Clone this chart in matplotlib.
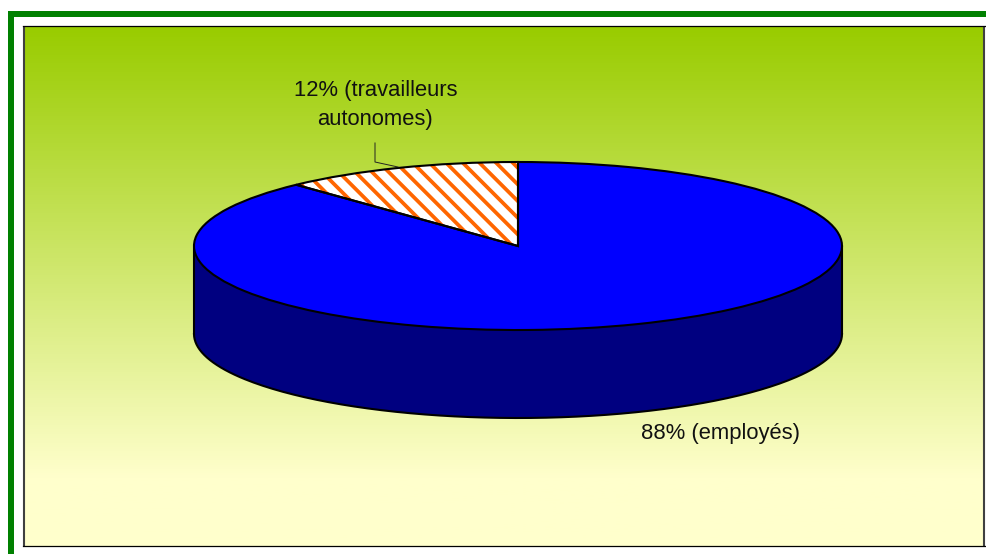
import numpy as np
import matplotlib
matplotlib.use('Agg')
import matplotlib.pyplot as plt
from matplotlib.colors import LinearSegmentedColormap

shares = [88, 12]
labels = ['88% (employés)', '12% (travailleurs\nautonomes)']
top_colors = ['#0000FF', 'white']
wall_color = '#000080'

W, H = 987, 554
cx, cy = 518, 246      # centre of the top face, px
rx, ry = 324, 84
depth = 88

plt.rcParams['font.family'] = ['Liberation Sans', 'DejaVu Sans']
plt.rcParams['hatch.linewidth'] = 2.7
plt.rcParams['hatch.color'] = '#FF6600'

fig = plt.figure(figsize=(W / 100, H / 100), dpi=100, facecolor='white')
ax = fig.add_axes([0, 0, 1, 1])


def X(px):
    return (px - cx) / rx


def Y(py):
    return (cy - py) / ry


# side of the pie, then the top
ax.pie(shares, colors=[wall_color, wall_color], startangle=90, counterclock=False,
       center=(0, Y(cy + depth)), radius=1,
       wedgeprops=dict(edgecolor=wall_color, linewidth=0, zorder=3))
ax.fill_between([-1, 1], Y(cy), Y(cy + depth), color=wall_color, lw=0, zorder=3)
wall = np.linspace(-np.pi, 0, 200)
ax.plot(np.cos(wall), Y(cy + depth) + np.sin(wall), color='black', lw=1.5, zorder=4)
ax.plot([-1, -1], [Y(cy), Y(cy + depth)], color='black', lw=1.5, zorder=4)
ax.plot([1, 1], [Y(cy), Y(cy + depth)], color='black', lw=1.5, zorder=4)

wedges, _ = ax.pie(shares, colors=top_colors, startangle=90, counterclock=False,
                   center=(0, 0), radius=1,
                   wedgeprops=dict(linewidth=0, zorder=5))
wedges[1].set_hatch('\\\\')
wedges[1].set_edgecolor('#FF6600')
# outline over the hatch
ax.pie(shares, colors=['none', 'none'], startangle=90, counterclock=False,
       center=(0, 0), radius=1,
       wedgeprops=dict(edgecolor='black', linewidth=1.5, zorder=6, fill=False))

ax.set_aspect('auto')
ax.axis('off')

# background gradient of the plot area
cmap = LinearSegmentedColormap.from_list('bg', [(0, '#99CC00'), (0.87, '#FFFFCC'), (1, '#FFFFCC')])
ax.imshow(np.linspace(0, 1, 256)[:, None], cmap=cmap, aspect='auto', zorder=1,
          extent=(X(25), X(984), Y(546), Y(27)), origin='upper')
ax.set_xlim(X(0), X(W))
ax.set_ylim(Y(H), Y(0))

# chart border
ax.plot([X(24), X(24)], [Y(26), Y(546)], color='#404040', lw=1.5, zorder=2, solid_capstyle='butt')
ax.plot([X(984.5), X(984.5)], [Y(26), Y(546)], color='#404040', lw=1.5, zorder=2, solid_capstyle='butt')
ax.plot([X(23), X(985)], [Y(26.5), Y(26.5)], color='black', lw=0.9, zorder=2)
ax.plot([X(23), X(985)], [Y(546), Y(546)], color='black', lw=0.9, zorder=2)

# green outer frame
ax.fill_between([X(8), X(W)], Y(17), Y(11), color='#008000', lw=0, zorder=2)
ax.fill_between([X(8), X(14)], Y(H), Y(11), color='#008000', lw=0, zorder=2)

# labels
ax.text(X(375.5), Y(105), labels[1], ha='center', va='center', fontsize=15.8,
        color='#111111', linespacing=1.47, zorder=7)
ax.text(X(721), Y(434), labels[0], ha='center', va='center', fontsize=15.8,
        color='#111111', zorder=7)
ax.plot([X(375), X(375), X(398)], [Y(143), Y(162), Y(167)], color='#222222', lw=0.7, zorder=7)

fig.savefig('out.png', dpi=100)
